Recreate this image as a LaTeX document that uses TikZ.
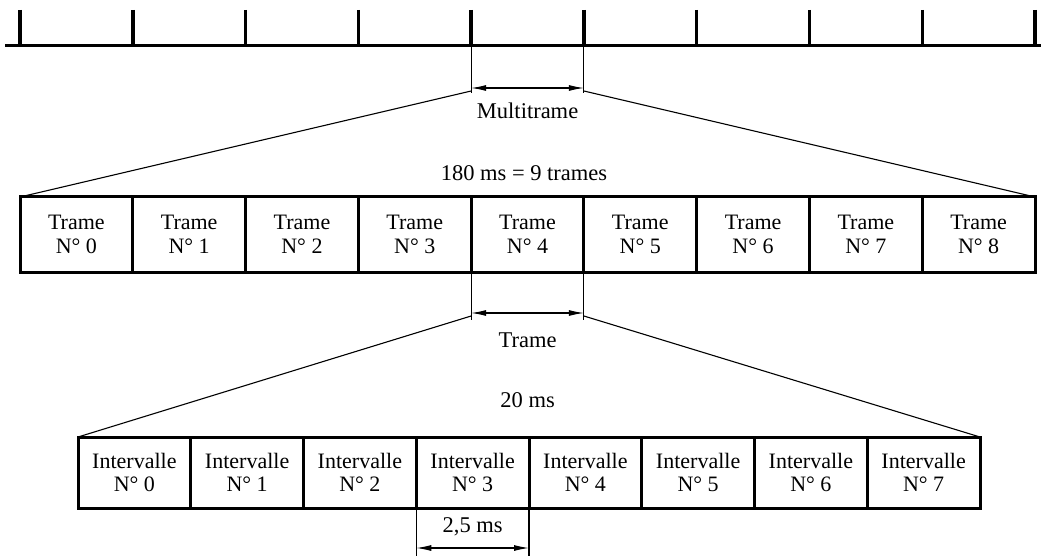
\documentclass[tikz,border=0pt]{standalone}
\usepackage{fontspec}
\setmainfont{Liberation Serif}
\usetikzlibrary{arrows.meta,calc}
\begin{document}
\begin{tikzpicture}[x=1pt,y=-1pt,
  thinline/.style={line width=1.1pt},
  scaleline/.style={line width=3pt},
  tickline/.style={line width=3.5pt},
  dimarrow/.style={line width=1.1pt,{Latex[length=15pt,width=6pt]}-{Latex[length=15pt,width=6pt]}},
  cell/.style={draw,line width=3pt,minimum width=112.78pt,inner sep=0pt,outer sep=0pt,align=center,font=\fontsize{22}{23.5}\selectfont},
  fcell/.style={cell,minimum width=112.78pt,minimum height=75pt},
  icell/.style={cell,minimum width=112.75pt,minimum height=71pt},
  lbl/.style={inner sep=0pt,font=\fontsize{22.5}{24}\selectfont}
]
\useasboundingbox (0,0) rectangle (1041,556);

% top scale
\draw[scaleline] (5,46) -- (1041,46);
\foreach \k in {0,...,9}{
  \coordinate (tk\k) at ({20+112.78*\k},46);
  \draw[tickline] ({20+112.78*\k},10) -- (tk\k);
}

% frames
\foreach \k in {0,...,8}{
  \node[fcell] (f\k) at ({20+112.78*(\k+0.5)},234.5) {Trame\\N° \k};
}

% intervals
\foreach \k in {0,...,7}{
  \node[icell] (i\k) at ({78+112.75*(\k+0.5)},472.5) {Intervalle\\N° \k};
}

% multitrame dimension
\coordinate (m1) at ($(tk4)+(0,47)$);
\coordinate (m2) at ($(tk5)+(0,47)$);
\draw[thinline] (tk4) -- (m1);
\draw[thinline] (tk5) -- (m2);
\coordinate (ma1) at ($(tk4)+(0,42)$);
\coordinate (ma2) at ($(tk5)+(0,42)$);
\draw[dimarrow] (ma1) -- (ma2);
\coordinate (ms1) at ($(tk4)+(0,45)$);
\coordinate (ms2) at ($(tk5)+(0,45)$);
\draw[thinline] (ms1) -- (f0.north west);
\draw[thinline] (ms2) -- (f8.north east);
\node[lbl] (lmulti) at (527.6,111) {Multitrame};
\node[lbl] (l180) at (524,173) {180 ms = 9 trames};

% trame dimension
\coordinate (n1) at ($(f4.south west)+(0,48)$);
\coordinate (n2) at ($(f4.south east)+(0,48)$);
\draw[thinline] (f4.south west) -- (n1);
\draw[thinline] (f4.south east) -- (n2);
\coordinate (na1) at ($(f4.south west)+(0,41)$);
\coordinate (na2) at ($(f4.south east)+(0,41)$);
\draw[dimarrow] (na1) -- (na2);
\coordinate (ns1) at ($(f4.south west)+(0,44)$);
\coordinate (ns2) at ($(f4.south east)+(0,44)$);
\draw[thinline] (ns1) -- (i0.north west);
\draw[thinline] (ns2) -- (i7.north east);
\node[lbl] (ltrame) at (527.6,340) {Trame};
\node[lbl] (l20) at (527.6,400) {20 ms};

% intervalle dimension
\coordinate (p1) at ($(i3.south west)+(0,48)$);
\coordinate (p2) at ($(i3.south east)+(0,48)$);
\draw[thinline] (i3.south west) -- (p1);
\draw[thinline] (i3.south east) -- (p2);
\coordinate (pa1) at ($(i3.south west)+(0,40)$);
\coordinate (pa2) at ($(i3.south east)+(0,40)$);
\draw[dimarrow] (pa1) -- (pa2);
\node[lbl] (l25) at ($(i3.south)+(0,19)$) {2,5 ms};
\end{tikzpicture}
\end{document}
